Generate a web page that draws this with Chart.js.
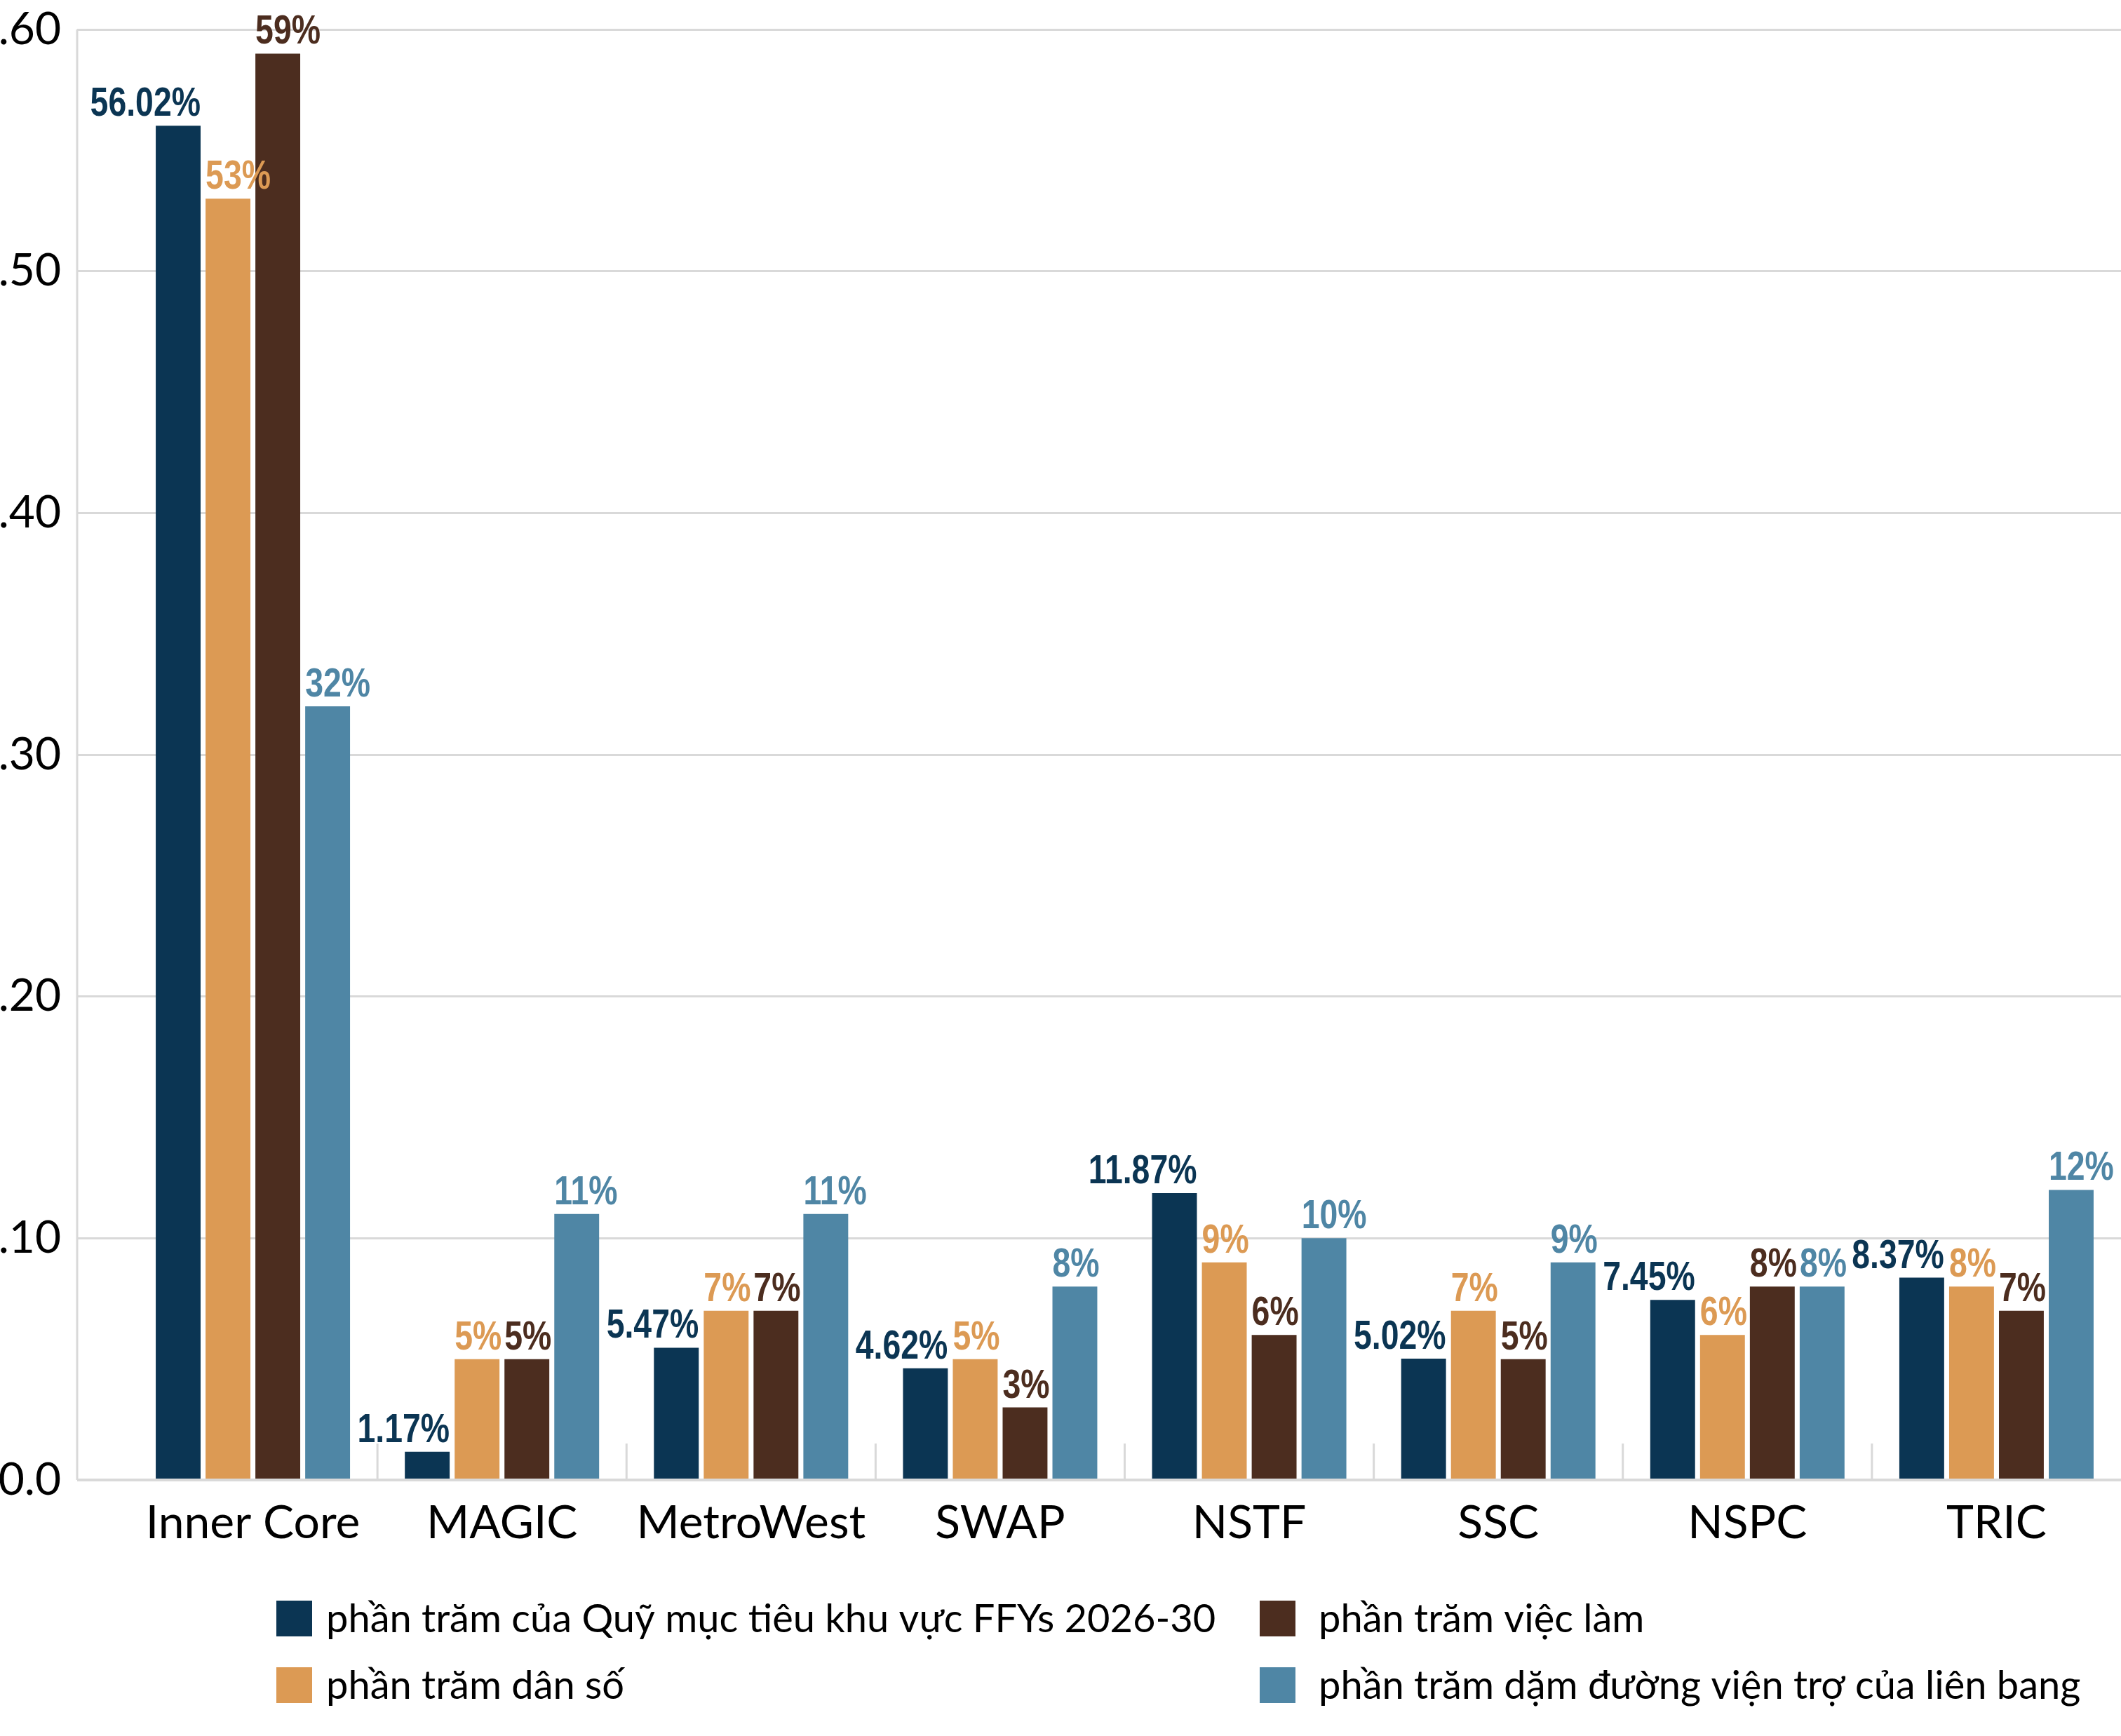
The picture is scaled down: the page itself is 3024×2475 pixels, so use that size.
<!DOCTYPE html>
<html><head><meta charset="utf-8">
<script src="https://cdn.jsdelivr.net/npm/chart.js@4.4.1/dist/chart.umd.min.js"></script>
<style>html,body{margin:0;padding:0;background:#fff;} #wrap{width:3024px;height:2475px;}</style>
</head><body><div id="wrap"><canvas id="c" width="3024" height="2475"></canvas></div>
<script>
const categories = ['Inner Core','MAGIC','MetroWest','SWAP','NSTF','SSC','NSPC','TRIC'];
const seriesNames = ['phần trăm của Quỹ mục tiêu khu vực FFYs 2026-30','phần trăm dân số','phần trăm việc làm','phần trăm dặm đường viện trợ của liên bang'];
const fundShare = [0.5602,0.0117,0.0547,0.0462,0.1187,0.0502,0.0745,0.0837];
const populationShare = [0.53,0.05,0.07,0.05,0.09,0.07,0.06,0.08];
const jobsShare = [0.59,0.05,0.07,0.03,0.06,0.05,0.08,0.07];
const fedAidMilesShare = [0.32,0.11,0.11,0.08,0.10,0.09,0.08,0.12];
const yTickLabels = ['0.0','.10','.20','.30','.40','.50','.60'];
const seriesColors = ['#0b3553','#dc9a54','#4c2d1f','#4f86a5'];

const GRID = '#d9d9d9';
const LABEL_FONT = "bold 58px 'Liberation Sans', Arial, sans-serif";
const LABEL_SQUEEZE = 0.8;
const LEGEND_FONT = "56px Lato, Roboto, sans-serif";

function fmtLabel(di, v){
  return di === 0 ? (v*100).toFixed(2) + '%' : Math.round(v*100) + '%';
}

const decor = {
  id: 'decor',
  beforeDatasetsDraw(chart){
    const {ctx, chartArea, scales:{x, y}} = chart;
    ctx.save();
    ctx.strokeStyle = GRID; ctx.lineWidth = 3;
    const lx = chartArea.left - y.options.grid.tickLength;
    ctx.beginPath(); ctx.moveTo(lx, y.getPixelForValue(0.6)); ctx.lineTo(lx, y.getPixelForValue(0)); ctx.stroke();
    const y0 = y.getPixelForValue(0);
    for (let i = 0; i < categories.length - 1; i++){
      const bx = (x.getPixelForValue(i) + x.getPixelForValue(i+1)) / 2;
      ctx.beginPath(); ctx.moveTo(bx, y0); ctx.lineTo(bx, y0 - 52); ctx.stroke();
    }
    ctx.restore();
  },
  afterDatasetsDraw(chart){
    const {ctx} = chart;
    chart.data.datasets.forEach((ds, di) => {
      const meta = chart.getDatasetMeta(di);
      meta.data.forEach((bar, i) => {
        const p = bar.getProps(['x','y','width'], true);
        const txt = fmtLabel(di, ds.data[i]);
        ctx.save();
        ctx.font = LABEL_FONT;
        ctx.textBaseline = 'alphabetic';
        ctx.fillStyle = ds.backgroundColor;
        if (di === 0){
          ctx.translate(p.x + p.width/2, p.y - 14); ctx.textAlign = 'right';
        } else {
          ctx.translate(p.x - p.width/2, p.y - 14); ctx.textAlign = 'left';
        }
        ctx.scale(LABEL_SQUEEZE, 1);
        ctx.fillText(txt, 0, 0);
        ctx.restore();
      });
    });
  },
  afterDraw(chart){
    const {ctx} = chart;
    const boxX = [394, 1796], textX = [465, 1880], rows = [2307, 2402];
    const place = [[0,0],[0,1],[1,0],[1,1]]; // [col,row] per dataset
    ctx.save();
    ctx.font = LEGEND_FONT;
    ctx.textBaseline = 'middle';
    ctx.textAlign = 'left';
    chart.data.datasets.forEach((ds, di) => {
      const [c, r] = place[di];
      ctx.fillStyle = ds.backgroundColor;
      ctx.fillRect(boxX[c], rows[r] - 25, 51, 51);
      ctx.fillStyle = '#000';
      ctx.fillText(ds.label, textX[c], rows[r] + 2);
    });
    ctx.restore();
  }
};

const seriesData = [fundShare, populationShare, jobsShare, fedAidMilesShare];
new Chart(document.getElementById('c'), {
  type: 'bar',
  data: {
    labels: categories,
    datasets: seriesData.map((d, i) => ({
      label: seriesNames[i], data: d, backgroundColor: seriesColors[i],
      borderWidth: 0, categoryPercentage: 0.8, barPercentage: 0.9
    }))
  },
  options: {
    responsive: false, devicePixelRatio: 1, animation: false,
    layout: {padding: {top: 42, right: 0, bottom: 265, left: 0}},
    plugins: {legend: {display: false}, tooltip: {enabled: false}},
    scales: {
      x: {
        grid: {display: false, drawTicks: false}, border: {display: false},
        ticks: {font: {family: 'Lato', size: 66}, color: '#000', padding: 22, maxRotation: 0, autoSkip: false},
        afterFit(s){ s.height = 100; s.paddingLeft = 0; s.paddingRight = 0; }
      },
      y: {
        min: 0, max: 0.6, border: {display: false},
        grid: {color: GRID, lineWidth: c => (c.tick && c.tick.value === 0) ? 4 : 3, tickLength: 73, drawTicks: true},
        ticks: {stepSize: 0.1, font: {family: 'Lato', size: 64}, color: '#000', padding: 23,
                callback: (v, i) => yTickLabels[i]},
        afterFit(s){ s.width = 183; s.paddingTop = 0; s.paddingBottom = 0; }
      }
    }
  },
  plugins: [decor]
});
</script>
</body></html>
